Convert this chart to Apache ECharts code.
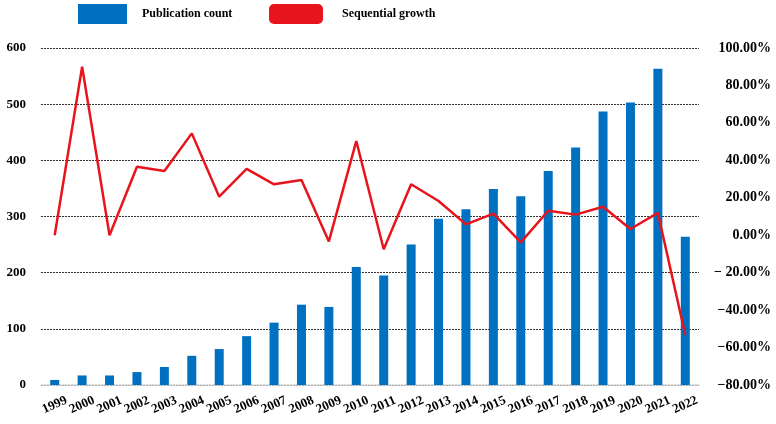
<!DOCTYPE html>
<html>
<head>
<meta charset="utf-8">
<script src="https://cdn.jsdelivr.net/npm/echarts@6/dist/echarts.min.js"></script>
<style>html,body{margin:0;padding:0;background:#fff;}#c{width:776px;height:424px;}</style>
</head>
<body>
<div id="c"></div>
<script>
var years = ['1999','2000','2001','2002','2003','2004','2005','2006','2007','2008','2009','2010','2011','2012','2013','2014','2015','2016','2017','2018','2019','2020','2021','2022'];
var publicationCount = [9,17,17,23,32,52,64,87,111,143,139,210,195,250,296,313,349,336,381,423,487,503,563,264];
var sequentialGrowth = [0,90,0,36.6,34.3,54.4,20.6,35.4,27.2,29.5,-3.3,50.3,-7.5,27.2,18.3,5.8,11.5,-3.8,13.1,11,15.2,3.3,11.9,-53.3];
var leftTicks = {min:0, max:600, interval:100};
var rightTicks = {min:-80, max:100, interval:20};

var font = 'Liberation Serif';
var chart = echarts.init(document.getElementById('c'));
chart.setOption({
  animation: false,
  backgroundColor: '#fff',
  legend: [
    {left: 78, top: 4, padding: 0, itemWidth: 49, itemHeight: 20,
     data: [{name: 'Publication count', icon: 'rect'}],
     textStyle: {fontFamily: font, fontWeight: 'bold', fontSize: 12, color: '#000', padding: [0,0,0,10]}},
    {left: 269, top: 4, padding: 0, itemWidth: 54, itemHeight: 20,
     data: [{name: 'Sequential growth', icon: 'roundRect'}],
     textStyle: {fontFamily: font, fontWeight: 'bold', fontSize: 12, color: '#000', padding: [0,0,0,14]}}
  ],
  grid: {left: 41, right: 77, top: 48, bottom: 39, containLabel: false},
  xAxis: {
    type: 'category', data: years, boundaryGap: true,
    axisLine: {show: true, lineStyle: {color: '#d9d9d9', width: 1.5}},
    axisTick: {show: false},
    axisLabel: {interval: 0, rotate: 24, align: 'center', verticalAlign: 'middle', margin: 20,
      fontFamily: font, fontWeight: 'bold', fontSize: 13, color: '#000'}
  },
  yAxis: [
    {type: 'value', min: leftTicks.min, max: leftTicks.max, interval: leftTicks.interval,
     axisLine: {show: false}, axisTick: {show: false},
     splitLine: {show: true, lineStyle: {color: '#333', type: [2,1], width: 1}},
     axisLabel: {margin: 15, fontFamily: font, fontWeight: 'bold', fontSize: 13, color: '#000'}},
    {type: 'value', min: rightTicks.min, max: rightTicks.max, interval: rightTicks.interval,
     position: 'right',
     axisLine: {show: false}, axisTick: {show: false}, splitLine: {show: false},
     axisLabel: {margin: 72, align: 'right', fontFamily: font, fontWeight: 'bold', fontSize: 14, color: '#000',
       formatter: function (v) {
         if (v < 0) { return (v === -20 ? '\u2212 ' : '\u2212') + Math.abs(v).toFixed(2) + '%'; }
         return v.toFixed(2) + '%';
       }}}
  ],
  series: [
    {name: 'Publication count', type: 'bar', yAxisIndex: 0, data: publicationCount,
     barWidth: 9, itemStyle: {color: '#0070c0'}, z: 2},
    {name: 'Sequential growth', type: 'line', yAxisIndex: 1, data: sequentialGrowth,
     color: '#e8141c', symbol: 'none', showSymbol: false,
     lineStyle: {color: '#e8141c', width: 2.5}, itemStyle: {color: '#e8141c'}, z: 3}
  ]
});
</script>
</body>
</html>
